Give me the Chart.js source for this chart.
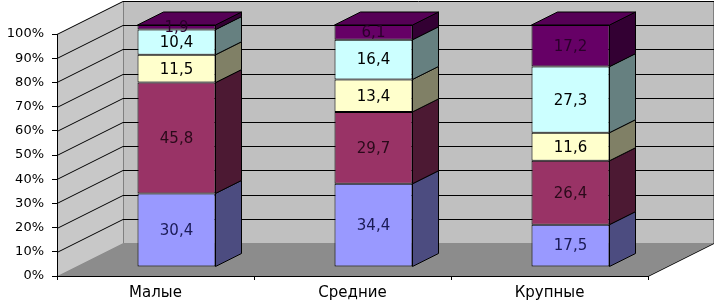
<!DOCTYPE html>
<html><head><meta charset="utf-8">
<script src="https://cdn.jsdelivr.net/npm/chart.js@4/dist/chart.umd.min.js"></script>
<style>html,body{margin:0;padding:0;background:#fff}canvas{display:block}</style>
</head><body>
<canvas id="c" width="715" height="300"></canvas>
<script>
// ---- data ----
const categories = ['Малые', 'Средние', 'Крупные'];
const series1 = [30.4, 34.4, 17.5];
const series2 = [45.8, 29.7, 26.4];
const series3 = [11.5, 13.4, 11.6];
const series4 = [10.4, 16.4, 27.3];
const series5 = [1.9, 6.1, 17.2];
const yMin = 0, yMax = 100, yStep = 10;

// ---- styles ----
const fronts = ['#9999FF', '#993366', '#FFFFCC', '#CCFFFF', '#660066'];
const sides  = ['#4c4c80', '#4c1933', '#808066', '#668080', '#330033'];
const tops   = ['#7a7acc', '#7a2952', '#cccca3', '#a3cccc', '#560056'];
const labelColors = ['#1a1a55', '#2a0a1a', '#000000', '#000000', '#2a002a'];
const FONT = "'DejaVu Sans', sans-serif";
const WALL = {x: 66, y: -33};
const SHIFT = {x: 21, y: -9};
const DEPTH = {x: 26, y: -13};

function poly(ctx, pts, fill, stroke) {
  ctx.beginPath();
  ctx.moveTo(pts[0][0], pts[0][1]);
  for (let i = 1; i < pts.length; i++) ctx.lineTo(pts[i][0], pts[i][1]);
  ctx.closePath();
  if (fill) { ctx.fillStyle = fill; ctx.fill(); }
  if (stroke) { ctx.strokeStyle = stroke; ctx.lineWidth = 1; ctx.stroke(); }
}

const threeD = {
  id: 'threeD',
  beforeDraw(chart) {
    const {ctx, chartArea: a, scales: {y}} = chart;
    const dx = WALL.x, dy = WALL.y;
    ctx.save();
    // back wall
    poly(ctx, [[a.left + dx, a.top + dy], [a.right + dx, a.top + dy], [a.right + dx, a.bottom + dy], [a.left + dx, a.bottom + dy]], '#c0c0c0');
    // left wall
    poly(ctx, [[a.left, a.top], [a.left + dx, a.top + dy], [a.left + dx, a.bottom + dy], [a.left, a.bottom]], '#c8c8c8');
    // floor
    poly(ctx, [[a.left, a.bottom], [a.left + dx, a.bottom + dy], [a.right + dx, a.bottom + dy], [a.right, a.bottom]], '#8c8c8c');
    // wall edges
    ctx.strokeStyle = '#808080'; ctx.lineWidth = 1;
    ctx.beginPath();
    ctx.moveTo(a.left + dx + 0.5, a.top + dy); ctx.lineTo(a.left + dx + 0.5, a.bottom + dy);
    ctx.moveTo(a.right + dx - 0.5, a.top + dy); ctx.lineTo(a.right + dx - 0.5, a.bottom + dy);
    ctx.stroke();
    ctx.strokeStyle = '#000'; ctx.beginPath();
    ctx.moveTo(a.right, a.bottom + 0.5); ctx.lineTo(a.right + dx, a.bottom + dy + 0.5);
    ctx.stroke();
    // gridlines
    ctx.strokeStyle = '#000'; ctx.lineWidth = 1;
    y.ticks.forEach(t => {
      if (t.value === yMin) return;
      const py = Math.round(y.getPixelForValue(t.value)) + 0.5;
      ctx.beginPath();
      ctx.moveTo(a.left, py);
      ctx.lineTo(a.left + dx, py + dy);
      ctx.lineTo(a.right + dx, py + dy);
      ctx.stroke();
    });
    ctx.restore();
  },
  beforeDatasetsDraw(chart) {
    chart.ctx.save();
    chart.ctx.translate(SHIFT.x, SHIFT.y);
  },
  afterDatasetsDraw(chart) {
    const ctx = chart.ctx;
    const n = chart.data.datasets.length;
    chart.data.datasets.forEach((ds, i) => {
      const meta = chart.getDatasetMeta(i);
      meta.data.forEach(bar => {
        const {x, y, base, width} = bar.getProps(['x', 'y', 'base', 'width'], true);
        const x1 = x - width / 2, x2 = x + width / 2;
        const top = Math.min(y, base), bot = Math.max(y, base);
        poly(ctx, [[x2, top], [x2 + DEPTH.x, top + DEPTH.y], [x2 + DEPTH.x, bot + DEPTH.y], [x2, bot]], sides[i], '#000');
        if (i === n - 1) {
          poly(ctx, [[x1, top], [x1 + DEPTH.x, top + DEPTH.y], [x2 + DEPTH.x, top + DEPTH.y], [x2, top]], tops[i], '#000');
        }
      });
    });
    ctx.font = '15px ' + FONT;
    ctx.textAlign = 'center';
    ctx.textBaseline = 'middle';
    chart.data.datasets.forEach((ds, i) => {
      const meta = chart.getDatasetMeta(i);
      meta.data.forEach((bar, j) => {
        const {x, y, base} = bar.getProps(['x', 'y', 'base'], true);
        ctx.fillStyle = labelColors[i];
        ctx.fillText(String(ds.data[j]).replace('.', ','), x, (y + base) / 2 + 1);
      });
    });
    ctx.restore();
  }
};

const seriesList = [series1, series2, series3, series4, series5];
new Chart(document.getElementById('c'), {
  type: 'bar',
  data: {
    labels: categories,
    datasets: seriesList.map((s, i) => ({
      label: 'Ряд' + (i + 1),
      data: s,
      backgroundColor: fronts[i],
      borderColor: '#000',
      borderWidth: 1,
      borderSkipped: false,
      categoryPercentage: 1,
      barPercentage: 0.396,
      clip: false
    }))
  },
  options: {
    responsive: false,
    animation: false,
    events: [],
    layout: {padding: {left: 0, right: 67, top: 34, bottom: 0}},
    plugins: {legend: {display: false}, tooltip: {enabled: false}},
    scales: {
      x: {
        stacked: true,
        offset: true,
        grid: {display: true, offset: true, drawOnChartArea: false, drawTicks: true, tickLength: 4, color: '#000'},
        border: {display: true, color: '#000'},
        ticks: {color: '#000', font: {family: FONT, size: 15}, padding: 4, maxRotation: 0},
        afterFit(s) { s.height = 24; }
      },
      y: {
        stacked: true,
        min: yMin, max: yMax,
        grid: {display: true, drawOnChartArea: false, drawTicks: true, tickLength: 5, color: '#000'},
        border: {display: true, color: '#000'},
        ticks: {stepSize: yStep, color: '#000', font: {family: FONT, size: 13}, padding: 8,
          callback: v => v + '%'},
        afterFit(s) { s.width = 57; }
      }
    }
  },
  plugins: [threeD]
});
</script>
</body></html>
